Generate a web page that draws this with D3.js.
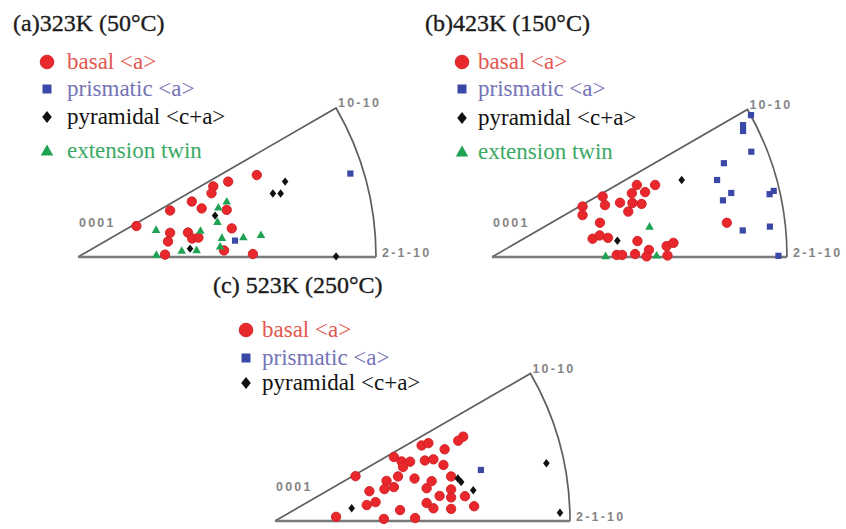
<!DOCTYPE html>
<html>
<head>
<meta charset="utf-8">
<script src="https://cdn.jsdelivr.net/npm/d3@7"></script>
<style>
  html, body { margin: 0; padding: 0; background: #fff; }
  svg { display: block; }
</style>
</head>
<body>
<svg id="chart" width="846" height="529"></svg>
<script>
// Inverse pole figures of the loading axis for grains showing each slip / twin mode.
// Point coordinates are stereographic positions inside the 0001 - 10-10 - 2-1-10 triangle,
// normalised so that the 0001 pole is (0,0) and the 2-1-10 pole is (1,0).

const panelTitles = ["(a)323K (50°C)", "(b)423K (150°C)", "(c) 523K (250°C)"];
const seriesNames = ["basal <a>", "prismatic <a>", "pyramidal <c+a>", "extension twin"];
const poleLabels = ["0001", "10-10", "2-1-10"];

// 323 K
const basal323 = [
  [0.600,0.275],[0.504,0.253],[0.454,0.237],[0.448,0.214],[0.382,0.186],[0.415,0.163],
  [0.309,0.156],[0.499,0.158],[0.196,0.104],[0.516,0.096],[0.309,0.081],[0.369,0.082],
  [0.302,0.052],[0.383,0.062],[0.404,0.065],[0.292,0.008],[0.490,0.022],[0.587,0.010]
];
const prismatic323 = [[0.914,0.280],[0.527,0.055]];
const pyramidal323 = [[0.695,0.253],[0.654,0.213],[0.680,0.213],[0.460,0.139],[0.376,0.028],[0.866,0.002]];
const twin323 = [
  [0.262,0.091],[0.411,0.088],[0.499,0.186],[0.471,0.166],[0.468,0.118],[0.483,0.064],
  [0.555,0.066],[0.614,0.074],[0.477,0.035],[0.263,0.007],[0.348,0.021],[0.398,0.023]
];

// 423 K
const basal423 = [
  [0.491,0.244],[0.553,0.244],[0.519,0.220],[0.474,0.216],[0.375,0.205],[0.307,0.171],
  [0.307,0.142],[0.383,0.176],[0.434,0.184],[0.476,0.183],[0.507,0.180],[0.462,0.154],
  [0.366,0.116],[0.341,0.062],[0.365,0.073],[0.393,0.065],[0.493,0.054],[0.592,0.037],
  [0.615,0.048],[0.423,0.007],[0.441,0.007],[0.485,0.010],[0.532,0.024],[0.524,0.002],
  [0.595,0.005],[0.796,0.116]
];
const prismatic423 = [
  [0.878,0.481],[0.851,0.447],[0.851,0.427],[0.879,0.357],[0.786,0.318],[0.763,0.261],
  [0.811,0.217],[0.783,0.192],[0.941,0.213],[0.955,0.224],[0.850,0.090],[0.942,0.103],
  [0.971,0.004]
];
const pyramidal423 = [[0.643,0.261],[0.425,0.055]];
const twin423 = [[0.534,0.103],[0.385,0.003],[0.558,0.005]];

// 523 K
const basal523 = [
  [0.638,0.286],[0.621,0.272],[0.497,0.256],[0.520,0.264],[0.575,0.243],[0.403,0.217],
  [0.429,0.202],[0.458,0.201],[0.434,0.183],[0.508,0.205],[0.537,0.209],[0.571,0.190],
  [0.273,0.152],[0.417,0.151],[0.473,0.144],[0.378,0.136],[0.403,0.115],[0.371,0.108],
  [0.320,0.101],[0.531,0.135],[0.514,0.111],[0.597,0.151],[0.597,0.107],[0.597,0.080],
  [0.558,0.085],[0.644,0.084],[0.311,0.054],[0.341,0.064],[0.514,0.061],[0.537,0.043],
  [0.597,0.041],[0.675,0.050],[0.424,0.037],[0.207,0.014],[0.369,0.007],[0.475,0.010]
];
const prismatic523 = [[0.698,0.173]];
const pyramidal523 = [[0.260,0.043],[0.620,0.144],[0.631,0.132],[0.672,0.104],[0.920,0.196],[0.966,0.028]];
const twin523 = [];

const basalData = [basal323, basal423, basal523];
const prismaticData = [prismatic323, prismatic423, prismatic523];
const pyramidalData = [pyramidal323, pyramidal423, pyramidal523];
const twinData = [twin323, twin423, twin523];

// Series styling
const markerColor = ["#e8282d", "#3a48a6", "#111111", "#1fa352"];
const textColor = ["#e2574f", "#7573b6", "#111111", "#3aa964"];

// Where each panel sits on the page
const panels = [
  {ox: 78,  oy: 257, r: 298, tx: 13,  ty: 31,  mx: 47,  lx: 67,  rows: [62, 89, 117, 151]},
  {ox: 492, oy: 257, r: 295, tx: 425, ty: 31,  mx: 462, lx: 478, rows: [62, 89, 118, 152]},
  {ox: 275, oy: 521, r: 295, tx: 213, ty: 293, mx: 246, lx: 262, rows: [330, 358, 383]}
];

const svg = d3.select("#chart");

function diamondPath(w, h) {
  return `M0,${-h}L${w},0L0,${h}L${-w},0Z`;
}
function trianglePath(w, h) {
  return `M0,${-h * 0.6}L${w},${h * 0.4}L${-w},${h * 0.4}Z`;
}

// Draw a marker of the given series at (x, y)
function drawMarker(g, kind, x, y, big) {
  const k = big ? 1.45 : 1;
  if (kind === 0) {
    g.append("circle").attr("cx", x).attr("cy", y).attr("r", 4.7 * k)
      .attr("fill", markerColor[0]).attr("stroke", "#cf1f22").attr("stroke-width", 0.9);
  } else if (kind === 1) {
    const s = 6.2 * k;
    g.append("rect").attr("x", x - s / 2).attr("y", y - s / 2).attr("width", s).attr("height", s)
      .attr("fill", markerColor[1]);
  } else if (kind === 2) {
    g.append("path").attr("transform", `translate(${x},${y})`)
      .attr("d", diamondPath(3.3 * k, 4.2 * k)).attr("fill", markerColor[2]);
  } else {
    g.append("path").attr("transform", `translate(${x},${y})`)
      .attr("d", trianglePath(4.3 * k, 7.6 * k)).attr("fill", markerColor[3]);
  }
}

panels.forEach((p, i) => {
  const g = svg.append("g");
  const x = d3.scaleLinear().domain([0, 1]).range([p.ox, p.ox + p.r]);
  const y = d3.scaleLinear().domain([0, 1]).range([p.oy, p.oy - p.r]);

  // Triangle outline: 0001 -> 10-10 straight edge, 10-10 -> 2-1-10 great-circle arc
  const a30 = Math.PI / 6;
  const corner = [Math.cos(a30), Math.sin(a30)];
  const edge = d3.path();
  edge.moveTo(x(0), y(0));
  edge.lineTo(x(corner[0]), y(corner[1]));
  edge.arc(x(0), y(0), x(1) - x(0), -a30, 0, false);
  g.append("path").attr("d", edge.toString())
    .attr("fill", "none").attr("stroke", "#5f5f5f").attr("stroke-width", 1.7);
  g.append("line")
    .attr("x1", x(0)).attr("y1", y(0)).attr("x2", x(1)).attr("y2", y(0))
    .attr("stroke", "#7a7a7a").attr("stroke-width", 2.6);

  // Pole labels
  const poleStyle = sel => sel.attr("font-family", "Liberation Sans, Arial, sans-serif")
    .attr("font-size", 12.5).attr("font-weight", "bold").attr("letter-spacing", 2.2)
    .attr("fill", "#858585");
  g.append("text").text(poleLabels[0]).attr("x", x(0) + 1).attr("y", y(0) - 30).call(poleStyle);
  g.append("text").text(poleLabels[1]).attr("x", x(corner[0]) + 2).attr("y", y(corner[1]) - 1).call(poleStyle);
  g.append("text").text(poleLabels[2]).attr("x", x(1) + 6).attr("y", y(0)).call(poleStyle);

  // Data points
  const sets = [basalData[i], twinData[i], prismaticData[i], pyramidalData[i]];
  const kinds = [0, 3, 1, 2];
  sets.forEach((pts, j) => {
    pts.forEach(d => drawMarker(g, kinds[j], x(d[0]), y(d[1]), false));
  });

  // Title
  g.append("text").text(panelTitles[i]).attr("x", p.tx).attr("y", p.ty)
    .attr("font-family", "Liberation Serif, Times New Roman, serif")
    .attr("font-size", 24).attr("fill", "#1b1b1b")
    .attr("stroke", "#1b1b1b").attr("stroke-width", 0.35);

  // Legend
  p.rows.forEach((ry, j) => {
    drawMarker(g, j, p.mx, ry, true);
    g.append("text").text(seriesNames[j]).attr("x", p.lx).attr("y", ry + 7)
      .attr("font-family", "Liberation Serif, Times New Roman, serif")
      .attr("font-size", 23).attr("fill", textColor[j]);
  });
});
</script>
</body>
</html>
